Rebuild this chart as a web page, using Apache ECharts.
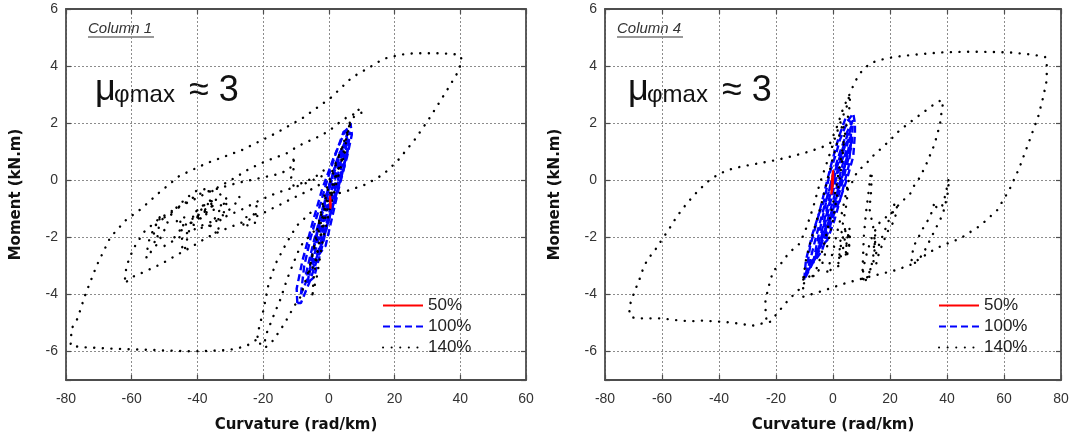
<!DOCTYPE html>
<html>
<head>
<meta charset="utf-8">
<script src="https://cdn.jsdelivr.net/npm/echarts@6/dist/echarts.min.js"></script>
<style>
  html, body { margin: 0; padding: 0; background: #fff; }
  #chart { width: 1073px; height: 438px; }
</style>
</head>
<body>
<div id="chart"></div>
<script>
// axis ranges / ticks
const xTicksCol1 = [-80, 60, 20]
const xTicksCol4 = [-80, 80, 20]
const yTicks = [-7, 6]
const seriesNames = ['50%', '100%', '140%']
const panelTitles = ['Column 1', 'Column 4']

// ---- Column 1 (left panel): [curvature, moment]
const col1_50 = [[0.4, -0.55], [0.6, -0.85], [0.5, -1.0], [0.3, -0.7], [0.4, -0.55]]

const col1_100_a = [[-9.6, -4.3], [-9.8, -3.8], [-8, -2.8], [-5, -1.5], [-2, -0.3], [1.5, 0.8], [4.5, 1.6], [6.6, 2.0], [7, 1.6], [5.5, 0.8], [3, -0.2], [0, -1.4], [-3, -2.6], [-6, -3.6], [-8.5, -4.3], [-9.6, -4.3]]
const col1_100_b = [[-7, -3.3], [-4.5, -2.1], [-1, -0.6], [2.5, 0.7], [5.5, 1.5], [6, 1.2], [4, 0.2], [1, -1], [-2.5, -2.3], [-5.5, -3.3], [-7, -3.3]]
const col1_100_c = [[-5.5, -2.8], [-3, -1.5], [0, -0.2], [3, 0.9], [5, 1.3], [4.5, 0.7], [1.5, -0.5], [-1.5, -1.9], [-4.5, -2.9], [-5.5, -2.8]]
const col1_100_d = [[-4, -2.2], [-1, -0.8], [2, 0.5], [4, 1.1], [3.5, 0.5], [0.5, -0.7], [-2.5, -2.0], [-4, -2.2]]
const col1_100_e = [[-8.5, -4.0], [-7.5, -3.0], [-5.5, -2.0], [-3, -1.0], [-0.5, 0], [2, 0.9], [4.5, 1.7], [6, 1.8], [4, 0.9], [1.5, -0.1], [-1, -1.1], [-3.5, -2.2], [-6, -3.3], [-8.5, -4.0]]
const col1_100_f = [[-6.5, -3.6], [-5, -2.6], [-3, -1.6], [-0.5, -0.5], [2, 0.4], [4.5, 1.2], [6.5, 1.7], [5.5, 0.9], [3, 0], [0.5, -1.1], [-2, -2.3], [-4.5, -3.4], [-6.5, -3.6]]
const col1_100_g = [[-3, -2.6], [-1.5, -1.5], [0.5, -0.5], [2.5, 0.4], [4.5, 1.0], [5.5, 1.6], [5, 0.6], [3, -0.3], [1, -1.3], [-1, -2.3], [-3, -2.6]]

const col1_140_outer = [[-2, -1.3], [-0.3, -0.55], [4.9, -0.4], [11.2, -0.15], [16.5, 0.2], [20.7, 0.65], [26, 1.4], [30.2, 2.1], [35.4, 3.05], [39.6, 3.85], [40.4, 4.25], [39.6, 4.4], [34.4, 4.45], [26, 4.45], [21.8, 4.4], [16.5, 4.25], [12.3, 3.95], [7, 3.6], [0.7, 2.9], [-7.7, 2.2], [-16.1, 1.65], [-26.6, 1.05], [-37.1, 0.6], [-45.5, 0.15], [-51.8, -0.45], [-57.1, -1.0], [-61.8, -1.4], [-66.5, -2.0], [-70.7, -3.0], [-74.1, -4.0], [-76.5, -4.85], [-78.3, -5.2], [-78.6, -5.8], [-75, -5.85], [-66.5, -5.9], [-52.9, -5.95], [-41.3, -6.0], [-30.8, -5.95], [-28.2, -5.9], [-25, -5.8], [-21.5, -5.55], [-20.5, -5.85], [-19.2, -5.85], [-17.1, -5.63], [-14.5, -5.2], [-12.4, -4.8], [-10.5, -4.4], [-8.7, -4.1], [-6.5, -3.3], [-4, -2.2], [-2, -1.3]]
const col1_140_loop2 = [[-3, -1.5], [0, -0.2], [3.5, 1.0], [6.6, 2.0], [8.5, 2.4], [9.7, 2.55], [9.9, 2.35], [6.6, 2.29], [3.6, 2.06], [0.5, 1.77], [-2, 1.59], [-5.1, 1.42], [-7.6, 1.3], [-10.7, 1.1], [-13.2, 0.92], [-16.2, 0.8], [-19.3, 0.66], [-23.9, 0.42], [-28.7, 0.08], [-34.9, -0.32], [-41, -0.67], [-46.2, -0.96], [-51.8, -1.36], [-56.4, -1.83], [-59.5, -2.4], [-61.5, -2.98], [-62, -3.33], [-62.1, -3.63], [-61.5, -3.55], [-60, -3.4], [-56, -3.2], [-50.8, -2.92], [-46, -2.6], [-42, -2.35], [-37, -2.0], [-32.3, -1.75], [-28, -1.55], [-24, -1.37], [-20.8, -1.2], [-17.8, -1.02], [-14.7, -0.85], [-11.7, -0.67], [-8.6, -0.5], [-5, -0.3], [-2, -0.1]]
const col1_140_mid1 = [[-50, -1.3], [-45, -0.9], [-40, -0.5], [-34, -0.3], [-28, -0.1], [-22, 0.05], [-16, 0.2], [-12.3, 0.35], [-11, 0.55], [-10.6, 0.85], [-10.8, 0.3], [-11.6, 0.05], [-10.7, -0.2], [-7, -0.05], [-3, 0.2], [0, 0.5]]
const col1_140_mid2 = [[-50, -2.3], [-44, -1.9], [-38, -1.55], [-32, -1.3], [-26, -1.0], [-21, -0.7], [-16, -0.45], [-12, -0.3], [-8, -0.15], [-4.6, 0.02], [-1, 0.2]]
const col1_140_blob = [[-41.5, -1.35], [-40.5, -1.1], [-38.5, -0.9], [-36, -0.7], [-34.3, -0.62], [-34.5, -0.8], [-36.5, -1.0], [-39, -1.2], [-41, -1.4], [-41.5, -1.2], [-39.5, -1.0], [-37, -0.8], [-35, -0.7], [-35.5, -0.9], [-38, -1.1], [-40.5, -1.3]]
const col1_140_blob2 = [[-40, -1.3], [-39, -1.05], [-37, -0.85], [-35.5, -0.72], [-36, -0.9], [-38, -1.05], [-40, -1.25], [-39.5, -1.4], [-38, -1.2], [-36, -1.0], [-34.8, -0.8]]
const col1_140_cl1 = [[-48, -1.2], [-46, -0.9], [-44, -0.7], [-42, -0.5], [-40, -0.35], [-37, -0.3], [-35, -0.4], [-33, -0.5], [-31, -0.6], [-33, -0.9], [-36, -1.1], [-39, -1.3], [-42, -1.5], [-45, -1.6], [-48, -1.2]]
const col1_140_cl2 = [[-47, -2.0], [-45, -1.7], [-43, -1.5], [-40, -1.6], [-38, -1.7], [-35, -1.5], [-32, -1.2], [-29, -0.9], [-27, -0.6], [-29, -0.5]]
const col1_140_small1 = [[-51.5, -1.3], [-52.5, -1.5], [-53.3, -1.9], [-53, -2.2], [-52.3, -2.1], [-51.8, -1.7], [-51.5, -1.3]]
const col1_140_small2 = [[-55.5, -2.7], [-55, -2.2], [-53, -1.6], [-50, -1.3], [-49, -1.5], [-52, -2.2], [-55.5, -2.7]]
const col1_140_small3 = [[-45.2, -1.45], [-44.6, -1.9], [-44.8, -2.3], [-44, -2.5], [-43, -2.0], [-42, -1.5], [-44, -1.3], [-45.2, -1.45]]
const col1_140_small4 = [[-36, -1.6], [-34, -1.2], [-32.5, -0.9], [-31, -0.7], [-31.5, -1.0], [-33, -1.4], [-34, -1.9], [-36, -1.6]]
const col1_140_small5 = [[-26, -1.55], [-25.5, -1.3], [-23, -1.25], [-22, -0.9], [-22.5, -1.5], [-24, -1.6], [-26, -1.55]]
const col1_140_drop1 = [[-4.6, -1.8], [-8.6, -2.3], [-10.7, -2.88], [-12.7, -3.46], [-14.7, -4.16], [-16.8, -4.74], [-18.8, -5.32], [-19.8, -5.78]]
const col1_140_drop2 = [[-5.6, -1.14], [-9.8, -1.6], [-12.9, -2.2], [-16.1, -2.9], [-18.3, -3.6], [-19.8, -4.5], [-21.3, -5.2], [-21.8, -5.55]]
const col1_140_bandA = [[-6, -3.2], [-4, -2.0], [-1.5, -0.6], [1, 0.3], [3.5, 1.0], [5.5, 1.5], [6.5, 2.1], [5, 1.2], [2.5, 0.2], [0, -0.8], [-2.5, -2.0], [-4.5, -3.0], [-6, -3.2]]
const col1_140_bandB = [[-5, -4.0], [-4.5, -3.3], [-3, -2.2], [-1, -1.0], [1.5, 0], [4, 0.7], [5, 1.0], [3, 0.2], [0.5, -0.9], [-2, -2.2], [-3.5, -3.3], [-5, -4.0]]

// ---- Column 4 (right panel)
const col4_50 = [[-0.6, -0.5], [-0.4, 0], [0, 0.35], [0.1, 0.1], [-0.2, -0.3], [-0.6, -0.5]]

const col4_100_a = [[-10.1, -3.48], [-9.5, -2.8], [-7.1, -1.85], [-5, -1.2], [-3, -0.69], [-1.2, 0.24], [1, 0.9], [2.4, 1.41], [4, 1.8], [5.4, 2.11], [7.1, 2.34], [7.7, 2.0], [7.7, 1.64], [7.1, 0.83], [4.8, 0.01], [2.4, -0.69], [0, -1.27], [-3.6, -2.09], [-7.1, -2.9], [-9.5, -3.37], [-10.1, -3.48]]
const col4_100_b = [[-8.5, -3.0], [-6, -2.0], [-3, -0.9], [0, 0.1], [3, 1.0], [5.5, 1.7], [6.5, 1.9], [6, 1.2], [3.5, 0.3], [1, -0.6], [-2, -1.6], [-5, -2.5], [-8.5, -3.0]]
const col4_100_c = [[-6, -2.6], [-3.5, -1.6], [-1, -0.5], [1.5, 0.5], [4, 1.2], [6, 1.5], [5, 0.8], [2.5, -0.2], [0, -1.1], [-3, -2.0], [-6, -2.6]]
const col4_100_d = [[-4, -2.0], [-1.5, -1.0], [1, 0], [3.5, 0.8], [5, 1.0], [4, 0.4], [1.5, -0.5], [-1, -1.4], [-4, -2.0]]
const col4_100_e = [[-9.5, -3.3], [-8, -2.3], [-5.5, -1.4], [-3, -0.4], [-0.5, 0.6], [2, 1.5], [4.5, 2.2], [6.5, 2.0], [4.5, 1.0], [2, 0], [-0.5, -0.9], [-3, -1.8], [-6, -2.7], [-9.5, -3.3]]
const col4_100_f = [[-7, -2.9], [-5, -1.9], [-2.5, -0.8], [0, 0.2], [2.5, 1.0], [5, 1.7], [7, 2.1], [6.5, 1.2], [4, 0.2], [1.5, -0.7], [-1, -1.6], [-4, -2.5], [-7, -2.9]]
const col4_100_g = [[-5, -2.4], [-3, -1.5], [-0.5, -0.5], [2, 0.5], [4.5, 1.3], [6.5, 1.5], [5.5, 0.5], [3, -0.5], [0.5, -1.4], [-2, -2.1], [-5, -2.4]]

const col4_140_outer = [[-8.3, -3.37], [-11.9, -3.83], [-15.5, -4.18], [-19, -4.59], [-22, -4.96], [-24.9, -5.02], [-28.4, -5.1], [-31.9, -5.04], [-35.4, -4.99], [-38.9, -4.96], [-42.4, -4.94], [-45.9, -4.92], [-49.3, -4.94], [-53.4, -4.92], [-56.9, -4.88], [-60.4, -4.84], [-66.2, -4.84], [-69.2, -4.84], [-71.1, -4.78], [-71.5, -4.55], [-71.1, -4.32], [-70.3, -4.08], [-69.2, -3.79], [-68, -3.5], [-66.8, -3.15], [-65, -2.75], [-63.1, -2.55], [-60.1, -2.09], [-57.7, -1.74], [-54.8, -1.27], [-51.2, -0.8], [-47.6, -0.4], [-44, -0.05], [-40.5, 0.19], [-36.9, 0.36], [-32.1, 0.48], [-26.2, 0.59], [-19.8, 0.71], [-14, 0.85], [-8.5, 1.0], [-4, 1.15], [-1, 1.3], [1.5, 1.9], [3.5, 2.5], [6, 3.05], [7.7, 3.45], [9.5, 3.75], [13, 4.1], [16.7, 4.22], [21.4, 4.32], [28.6, 4.4], [38.1, 4.48], [45.2, 4.5], [52.4, 4.5], [61.9, 4.48], [70.2, 4.4], [74.4, 4.32], [75, 4.2], [75, 3.97], [75, 3.51], [73.8, 2.93], [72, 2.23], [69, 1.41], [65.3, 0.41], [61.8, -0.35], [57.6, -1.05], [51.8, -1.58], [44.7, -2.04], [38, -2.3], [34.1, -2.51], [30.6, -2.74], [27.1, -2.97], [22, -3.15], [17.7, -3.26], [12, -3.4], [8.3, -3.5], [3, -3.65], [-1.05, -3.79], [-6, -3.95], [-10.4, -4.08], [-10.5, -3.7], [-10.4, -3.4]]
const col4_140_bandA = [[-23.4, -4.85], [-23.7, -4.5], [-23.7, -4.2], [-22, -3.5], [-20.8, -3.15], [-19, -3.02], [-15.5, -2.55], [-11.6, -2.21], [-9.2, -1.63], [-6.9, -0.93], [-4.6, -0.1], [-2.2, 0.6], [0.1, 1.3], [2.5, 2.0], [4.8, 2.58], [5.8, 3.0], [6, 2.7], [5.2, 2.2], [4, 1.5], [2.5, 0.6], [1, -0.3], [-1, -1.3], [-3, -2.2], [-5, -2.9], [-7, -3.4], [-8.5, -3.6]]
const col4_140_bandB = [[-10.4, -3.4], [-9.5, -2.8], [-8, -2.2], [-6, -1.5], [-4, -0.8], [-2, 0], [0, 0.8], [2, 1.5], [3.5, 2.0], [4, 1.5], [3, 0.5], [1.5, -0.5], [0, -1.4], [-2, -2.3], [-4, -3.0], [-6, -3.3], [-8, -3.4], [-10.4, -3.4]]
const col4_140_bandC = [[-2, -3.2], [0, -2.5], [1.5, -1.8], [3, -1.2], [4.5, -0.5], [5.5, 0], [4.8, -0.8], [3.5, -1.5], [2.5, -2.2], [2, -3], [0, -3.1], [-2, -3.2]]
const col4_140_blob = [[4.5, -2.6], [4.8, -2.2], [5.3, -1.85], [5.8, -1.7], [6.0, -1.9], [5.7, -2.3], [5.2, -2.55], [4.6, -2.7], [4.5, -2.4], [5, -2.05], [5.6, -1.8], [5.9, -2.1], [5.4, -2.45], [4.8, -2.65]]
const col4_140_blobLoop = [[1.9, -2.9], [2.5, -2.4], [3.5, -2.0], [4.5, -1.6], [4, -2.2], [3, -2.6], [1.9, -2.9]]
const col4_140_loop2 = [[5, -0.3], [6, -0.22], [8.5, 0.3], [11.8, 0.6], [14.5, 0.9], [17.7, 1.18], [20.5, 1.45], [23.5, 1.76], [28.2, 2.12], [32.9, 2.47], [36, 2.7], [38.2, 2.82], [38.6, 2.7], [38.2, 2.47], [37.6, 2.0], [36.4, 1.53], [35.3, 1.18], [32.9, 0.6], [30.6, 0.12], [28.2, -0.23], [27.1, -0.47], [24.7, -0.7], [22.4, -0.93], [21.2, -1.11], [18.8, -1.28], [16.5, -1.46], [14, -1.9], [12, -2.5], [10.8, -3.0], [10.3, -3.45], [11.5, -3.5]]
const col4_140_loop3 = [[10.3, -3.45], [10.5, -2.8], [10.8, -2.0], [11.5, -1.2], [12.5, -0.4], [13.3, 0.3], [13.6, 0.2], [13.3, -0.5], [12.8, -1.0], [14, -1.6], [14.8, -1.9], [14.5, -2.5], [14.9, -2.3], [14.6, -1.95], [14.2, -2.6], [13.5, -3.0], [12.5, -3.3], [11.5, -3.5]]
const col4_140_loop4 = [[12, -3.4], [14, -2.9], [16, -2.3], [18, -1.8], [20, -1.3], [21.8, -0.76], [22.4, -0.9], [22.4, -1.11], [21, -1.5], [19.4, -1.75], [17.5, -2.2], [16, -2.6], [15, -3.0]]
const col4_140_loop5 = [[27.6, -2.8], [28.2, -2.33], [30, -2.0], [31.2, -1.75], [33, -1.45], [34.1, -1.28], [35.3, -0.9], [35.5, -0.76], [36.5, -1.0], [38.2, -0.93], [39.5, -0.5], [40.6, 0.06], [40.5, -0.3], [40, -0.6], [38.5, -1.2], [36.5, -1.6], [34.5, -2.0], [32, -2.5], [30, -2.8], [28, -2.95], [27.5, -2.85]]

// grouping by legend entry (one line series per loop segment)
const panels = [
  {
    '50%': [col1_50],
    '100%': [col1_100_a, col1_100_b, col1_100_c, col1_100_d, col1_100_e, col1_100_f, col1_100_g],
    '140%': [col1_140_outer, col1_140_loop2, col1_140_mid1, col1_140_mid2, col1_140_blob, col1_140_blob2, col1_140_cl1, col1_140_cl2, col1_140_small1, col1_140_small2, col1_140_small3, col1_140_small4, col1_140_small5, col1_140_drop1, col1_140_drop2, col1_140_bandA, col1_140_bandB]
  },
  {
    '50%': [col4_50],
    '100%': [col4_100_a, col4_100_b, col4_100_c, col4_100_d, col4_100_e, col4_100_f, col4_100_g],
    '140%': [col4_140_outer, col4_140_bandA, col4_140_bandB, col4_140_bandC, col4_140_blob, col4_140_blobLoop, col4_140_loop2, col4_140_loop3, col4_140_loop4, col4_140_loop5]
  }
]

const lineStyles = {
  '50%': { color: '#ff0000', width: 2, type: 'solid' },
  '100%': { color: '#0000ff', width: 2.4, type: [7, 4] },
  '140%': { color: '#000000', width: 2.4, type: [0.1, 8.5], cap: 'round' }
}
const zOrder = { '50%': 5, '100%': 3, '140%': 4 }

const FONT = 'Liberation Sans, Arial, sans-serif'
const AXIS_COLOR = '#4d4d4d'

const series = []
panels.forEach((panel, p) => {
  seriesNames.forEach((name) => {
    panel[name].forEach((seg) => {
      series.push({
        name: name,
        type: 'line',
        xAxisIndex: p * 2,
        yAxisIndex: p * 2,
        data: seg,
        symbol: 'none',
        showSymbol: false,
        silent: true,
        z: zOrder[name],
        itemStyle: { color: lineStyles[name].color },
        lineStyle: lineStyles[name]
      })
    })
  })
})

const grids = [
  { left: 66, right: 547, top: 9, bottom: 57 },
  { left: 605, right: 12, top: 9, bottom: 57 }
]

function xAxes (gridIndex, ticks) {
  const base = {
    gridIndex: gridIndex,
    type: 'value',
    min: ticks[0],
    max: ticks[1],
    interval: ticks[2],
    axisLine: { show: true, onZero: false, lineStyle: { color: AXIS_COLOR, width: 1.8 } },
    axisTick: { show: true, inside: true, length: 5, lineStyle: { color: AXIS_COLOR, width: 1.2 } }
  }
  return [
    Object.assign({}, base, {
      position: 'bottom',
      name: 'Curvature (rad/km)',
      nameLocation: 'middle',
      nameGap: 38,
      nameTextStyle: { fontFamily: 'DejaVu Sans', fontWeight: 'bold', fontSize: 15, color: '#111' },
      axisLabel: { fontFamily: FONT, fontSize: 14, color: '#333', margin: 12 },
      splitLine: { show: true, lineStyle: { color: '#8c8c8c', width: 1, type: [2, 2] } }
    }),
    Object.assign({}, base, {
      position: 'top',
      axisLabel: { show: false },
      splitLine: { show: false }
    })
  ]
}

function yAxes (gridIndex) {
  const base = {
    gridIndex: gridIndex,
    type: 'value',
    min: yTicks[0],
    max: yTicks[1],
    splitNumber: 7,
    axisLine: { show: true, onZero: false, lineStyle: { color: AXIS_COLOR, width: 1.8 } },
    axisTick: { show: true, inside: true, length: 5, lineStyle: { color: AXIS_COLOR, width: 1.2 } }
  }
  return [
    Object.assign({}, base, {
      position: 'left',
      name: 'Moment (kN.m)',
      nameLocation: 'middle',
      nameGap: 42,
      nameTextStyle: { fontFamily: 'DejaVu Sans', fontWeight: 'bold', fontSize: 15, color: '#111' },
      axisLabel: {
        fontFamily: FONT, fontSize: 14, color: '#333', margin: 8,
        formatter: (v) => (v === yTicks[0] ? '' : String(v))
      },
      splitLine: { show: true, lineStyle: { color: '#8c8c8c', width: 1, type: [2, 2] } }
    }),
    Object.assign({}, base, {
      position: 'right',
      axisLabel: { show: false },
      splitLine: { show: false }
    })
  ]
}

function legendAt (left) {
  return {
    data: seriesNames,
    orient: 'vertical',
    left: left,
    top: 292,
    itemWidth: 40,
    itemHeight: 12,
    itemGap: 4,
    selectedMode: false,
    itemStyle: { opacity: 0 },
    textStyle: { fontFamily: FONT, fontSize: 17, color: '#222' }
  }
}

function panelTexts (dx, colX, title) {
  return [
    { type: 'text', left: colX, top: 21, style: { text: title, font: 'italic 15px ' + FONT, fill: '#333' } },
    { type: 'line', shape: { x1: colX, y1: 37, x2: colX + 66, y2: 37 }, style: { stroke: '#777', lineWidth: 1.3 } },
    { type: 'text', left: 95 + dx, top: 72, style: { text: 'μ', font: '36px ' + FONT, fill: '#111' } },
    { type: 'text', left: 114 + dx, top: 83, style: { text: 'φmax', font: '24px ' + FONT, fill: '#111' } },
    { type: 'text', left: 189 + dx, top: 73, style: { text: '≈ 3', font: '36px ' + FONT, fill: '#111' } }
  ]
}

const chart = echarts.init(document.getElementById('chart'), null, { renderer: 'canvas' })
chart.setOption({
  animation: false,
  backgroundColor: '#fff',
  grid: grids,
  xAxis: xAxes(0, xTicksCol1).concat(xAxes(1, xTicksCol4)),
  yAxis: yAxes(0).concat(yAxes(1)),
  legend: [legendAt(377), legendAt(933)],
  graphic: panelTexts(0, 88, panelTitles[0]).concat(panelTexts(533, 617, panelTitles[1])),
  series: series
})
</script>
</body>
</html>
